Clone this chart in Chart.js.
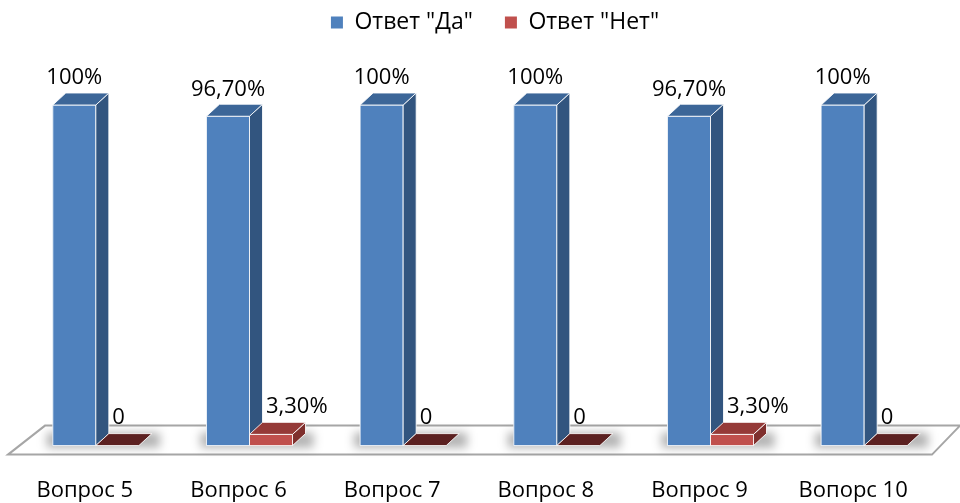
<!DOCTYPE html>
<html>
<head>
<meta charset="utf-8">
<script src="https://cdn.jsdelivr.net/npm/chart.js@4"></script>
<style>
  html, body { margin: 0; background: #fff; }
  #wrap { width: 960px; height: 503px; }
</style>
</head>
<body>
<div id="wrap"><canvas id="chart"></canvas></div>
<script>
// data
const categories = ['Вопрос 5', 'Вопрос 6', 'Вопрос 7', 'Вопрос 8', 'Вопрос 9', 'Вопорс 10'];
const yesValues = [100, 96.7, 100, 100, 96.7, 100];
const noValues = [0, 3.3, 0, 0, 3.3, 0];
const seriesNames = ['Ответ "Да"', 'Ответ "Нет"'];

// 3d look
const DX = 13, DY = -12;
const faces = [
  { front: '#4f81bd', side: '#32557f', top: '#3c6698', flat: '#3c6698' },
  { front: '#c0504d', side: '#7f2f2d', top: '#953a38', flat: '#5c2121' }
];
const FONT = '"Open Sans", "DejaVu Sans", sans-serif';

function fmt(v) {
  if (v === 0) return '0';
  if (Number.isInteger(v)) return v + '%';
  return v.toFixed(2).replace('.', ',') + '%';
}

function poly(ctx, pts, fill) {
  ctx.beginPath();
  ctx.moveTo(pts[0][0], pts[0][1]);
  for (let i = 1; i < pts.length; i++) ctx.lineTo(pts[i][0], pts[i][1]);
  ctx.closePath();
  ctx.fillStyle = fill;
  ctx.fill();
  ctx.stroke();
}

const bars3d = {
  id: 'bars3d',
  afterLayout(chart) {
    // move the legend to where the original had it
    const l = chart.legend;
    l.top -= 61; l.bottom -= 61;
    l.left += 15; l.right += 15;
  },
  beforeDatasetsDraw(chart) {
    const { ctx, chartArea: a } = chart;
    ctx.save();
    // floor
    ctx.beginPath();
    ctx.moveTo(a.left - 11, a.bottom + 9);
    ctx.lineTo(a.right - 9, a.bottom + 9);
    ctx.lineTo(a.right + 19, a.bottom - 20);
    ctx.lineTo(a.left + 26, a.bottom - 20);
    ctx.closePath();
    ctx.fillStyle = '#fff';
    ctx.fill();
    ctx.strokeStyle = '#a6a6a6';
    ctx.lineWidth = 2;
    ctx.stroke();
    // soft shadow round the feet of the bars
    const m0 = chart.getDatasetMeta(0).data, m1 = chart.getDatasetMeta(1).data;
    ctx.filter = 'blur(5px)';
    ctx.fillStyle = 'rgba(0,0,0,0.3)';
    m0.forEach((b, i) => {
      const l = b.x - b.width / 2, r = m1[i].x + m1[i].width / 2;
      ctx.fillRect(l - 6, a.bottom - 13, r - l + DX + 14, 15);
    });
    ctx.restore();
  },
  afterDatasetsDraw(chart) {
    const ctx = chart.ctx;
    ctx.save();
    ctx.lineWidth = 1;
    ctx.strokeStyle = 'rgba(255,255,255,0.85)';
    ctx.lineJoin = 'round';
    [0, 1].forEach(d => {
      const f = faces[d];
      chart.getDatasetMeta(d).data.forEach(b => {
        const l = b.x - b.width / 2, r = b.x + b.width / 2;
        const t = b.y, base = b.base;
        if (Math.abs(base - t) < 0.5) {
          poly(ctx, [[l, base], [r, base], [r + DX, base + DY], [l + DX, base + DY]], f.flat);
          return;
        }
        poly(ctx, [[l, t], [r, t], [r, base], [l, base]], f.front);
        poly(ctx, [[r, t], [r + DX, t + DY], [r + DX, base + DY], [r, base]], f.side);
        poly(ctx, [[l, t], [l + DX, t + DY], [r + DX, t + DY], [r, t]], f.top);
      });
    });
    // value labels
    ctx.fillStyle = '#000';
    ctx.font = '22px ' + FONT;
    ctx.textBaseline = 'middle';
    [0, 1].forEach(d => {
      const vals = chart.data.datasets[d].data;
      chart.getDatasetMeta(d).data.forEach((b, i) => {
        if (d === 0) {
          ctx.textAlign = 'center';
          ctx.fillText(fmt(vals[i]), b.x, b.y - 27);
        } else {
          ctx.textAlign = 'left';
          ctx.fillText(fmt(vals[i]), b.x - 5, b.y - 28);
        }
      });
    });
    ctx.restore();
  }
};

new Chart(document.getElementById('chart'), {
  type: 'bar',
  data: {
    labels: categories,
    datasets: [
      { label: seriesNames[0], data: yesValues, backgroundColor: faces[0].front, borderWidth: 0 },
      { label: seriesNames[1], data: noValues, backgroundColor: faces[1].front, borderWidth: 0 }
    ]
  },
  options: {
    responsive: true,
    maintainAspectRatio: false,
    animation: false,
    layout: { padding: { left: 19, right: 19, top: 40, bottom: -33 } },
    datasets: { bar: { categoryPercentage: 0.56, barPercentage: 1 } },
    plugins: {
      legend: {
        position: 'top',
        labels: {
          boxWidth: 12, boxHeight: 12, padding: 32, color: '#000',
          font: { family: FONT, size: 23 }
        }
      },
      tooltip: { enabled: false }
    },
    scales: {
      x: {
        grid: { display: false, drawTicks: false },
        border: { display: false },
        ticks: { color: '#000', padding: 32, labelOffset: -11, font: { family: FONT, size: 22 } }
      },
      y: { display: false, min: 0, max: 100 }
    }
  },
  plugins: [bars3d]
});
</script>
</body>
</html>
